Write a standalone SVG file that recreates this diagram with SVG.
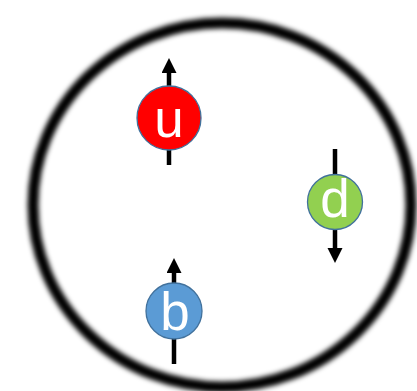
<svg xmlns="http://www.w3.org/2000/svg" width="417" height="391" viewBox="0 0 417 391">
<defs>
<filter id="blur" x="-10%" y="-10%" width="120%" height="120%"><feGaussianBlur stdDeviation="2.4"/></filter>
<marker id="ah" markerUnits="userSpaceOnUse" markerWidth="16" markerHeight="16" viewBox="0 0 16 16" refX="0" refY="7.5" orient="auto"><path d="M0,0 L15,7.5 L0,15 z" fill="#000"/></marker>
<style>
.arr{stroke:#000;stroke-width:4.5;fill:none}
.q{stroke:#41719C;stroke-width:1.3}
.t{font-family:"Liberation Sans",Arial,sans-serif;font-size:53px;fill:#fff;text-anchor:middle}
</style>
</defs>
<rect width="417" height="391" fill="#fff"/>
<ellipse cx="222" cy="205" rx="189" ry="182" fill="none" stroke="#000" stroke-width="11" filter="url(#blur)"/>
<g id="connectors">
<line class="arr" x1="169" y1="165" x2="169" y2="73" marker-end="url(#ah)"/>
<line class="arr" x1="335" y1="149" x2="335" y2="248" marker-end="url(#ah)"/>
<line class="arr" x1="174" y1="364" x2="174" y2="273" marker-end="url(#ah)"/>
</g>
<g id="u"><circle class="q" cx="169" cy="118" r="32" fill="#FF0000"/><text class="t" x="169" y="137">u</text></g>
<g id="d"><circle class="q" cx="335" cy="202" r="27.5" fill="#92D050"/><text class="t" x="335" y="217">d</text></g>
<g id="b"><circle class="q" cx="174" cy="311" r="28" fill="#5B9BD5"/><text class="t" x="175" y="330">b</text></g>
</svg>
